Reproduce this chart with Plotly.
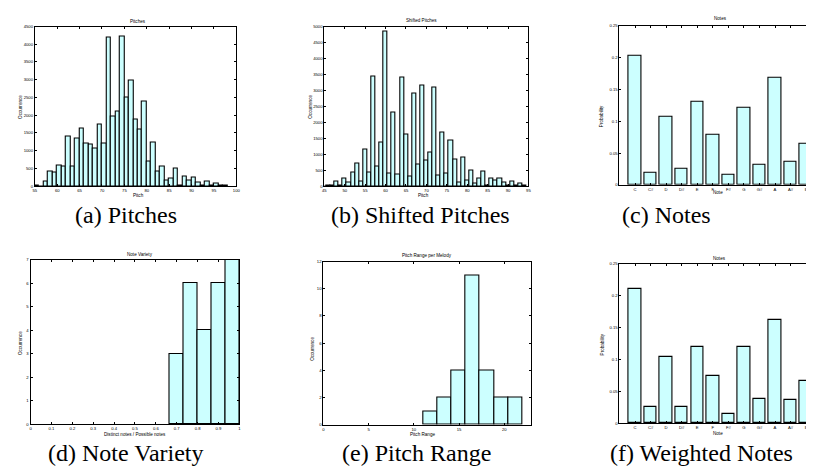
import plotly.graph_objects as go

# ---------------- data ----------------
# (a) Pitches: histogram bins [k, k+1)
pitch_bin_left = list(range(55, 98))
pitch_counts = [20, 0, 130, 410, 380, 580, 550, 1400, 540, 1330, 1610, 1190, 1180, 1070,
                1730, 1190, 4190, 1960, 2100, 4210, 2510, 2990, 1890, 1590, 2380, 700,
                1240, 420, 550, 160, 210, 490, 30, 260, 170, 240, 110, 20, 130, 10, 70, 10, 5]

# (b) Shifted Pitches: bins centred on integer pitch
shifted_pitch = list(range(45, 95))
shifted_counts = [0, 20, 20, 150, 30, 240, 100, 410, 720, 155, 1160, 410, 3420, 610, 1350,
                  4830, 390, 2320, 360, 3390, 1610, 290, 2910, 690, 3160, 800, 1060, 3100,
                  340, 1680, 380, 1430, 830, 120, 910, 180, 480, 80, 250, 470, 30, 250, 175,
                  240, 105, 25, 135, 10, 80, 10]

# (c) Notes and (f) Weighted Notes
note_names = ["C", "C#", "D", "D#", "E", "F", "F#", "G", "G#", "A", "A#", "B"]
note_prob = [0.203, 0.019, 0.107, 0.025, 0.130, 0.078, 0.015, 0.121, 0.031, 0.169, 0.036, 0.064]
weighted_note_prob = [0.211, 0.025, 0.104, 0.026, 0.120, 0.074, 0.015, 0.120, 0.038, 0.162, 0.037, 0.067]

# (d) Note Variety: bin edges and counts
variety_edges = [0.6667, 0.7333, 0.8, 0.8667, 0.9333, 1.0]
variety_counts = [3, 6, 4, 6, 7]

# (e) Pitch Range per Melody: bin edges and counts
range_edges = [11.0, 12.571, 14.143, 15.714, 17.286, 18.857, 20.429, 22.0]
range_counts = [1, 2, 4, 11, 4, 2, 2]

titles = ["Pitches", "Shifted Pitches", "Notes", "Note Variety", "Pitch Range per Melody", "Notes"]
xlabels = ["Pitch", "Pitch", "Note", "Distinct notes / Possible notes", "Pitch Range", "Note"]
ylabels = ["Occurrence", "Occurrence", "Probability", "Occurrence", "Occurrence", "Probability"]
captions = ["(a) Pitches", "(b) Shifted Pitches", "(c) Notes",
            "(d) Note Variety", "(e) Pitch Range", "(f) Weighted Notes"]

# ---------------- layout helpers ----------------
W, H = 814, 467
def px(x):
    return x / W
def py(y):
    return 1 - y / H

FILL = "#ccffff"
EDGE = "black"
TICKFONT = dict(family="Liberation Sans, Arial, sans-serif", size=4.2, color="black")
LABFONT = dict(family="Liberation Sans, Arial, sans-serif", size=4.6, color="black")
CAPFONT = dict(family="Liberation Serif", size=24, color="black")

# panel boxes in pixels: (left, right, top, bottom)
boxes = [
    (25, 228, 15.7, 177),
    (316.7, 522.3, 15.7, 177),
    (614, 814, 15, 175.7),
    (20.7, 231, 251.7, 417.7),
    (315.7, 525.3, 253.3, 418.3),
    (614, 814, 255.7, 416.7),
]

fig = go.Figure()

def centers(edges):
    return [(a + b) / 2 for a, b in zip(edges[:-1], edges[1:])]
def widths(edges):
    return [b - a for a, b in zip(edges[:-1], edges[1:])]

bar_style = dict(marker=dict(color=FILL, line=dict(color=EDGE, width=1.1)), showlegend=False,
                 hoverinfo="skip")

fig.add_trace(go.Bar(x=[k + 0.5 for k in pitch_bin_left], y=pitch_counts, width=1,
                     xaxis="x", yaxis="y", **bar_style))
fig.add_trace(go.Bar(x=shifted_pitch, y=shifted_counts, width=1,
                     xaxis="x2", yaxis="y2", **bar_style))
fig.add_trace(go.Bar(x=list(range(1, 13)), y=note_prob, width=0.8,
                     xaxis="x3", yaxis="y3", **bar_style))
fig.add_trace(go.Bar(x=centers(variety_edges), y=variety_counts, width=widths(variety_edges),
                     xaxis="x4", yaxis="y4", **bar_style))
fig.add_trace(go.Bar(x=centers(range_edges), y=range_counts, width=widths(range_edges),
                     xaxis="x5", yaxis="y5", **bar_style))
fig.add_trace(go.Bar(x=list(range(1, 13)), y=weighted_note_prob, width=0.8,
                     xaxis="x6", yaxis="y6", **bar_style))

def ax(domain, rng, tickvals, ticktext=None, mirror="allticks", anchor=None):
    d = dict(domain=domain, range=rng, tickmode="array", tickvals=tickvals,
             showline=True, linecolor="black", linewidth=1, mirror=mirror,
             ticks="inside", ticklen=2, tickwidth=0.8, tickcolor="black",
             tickfont=TICKFONT, showgrid=False, zeroline=False, fixedrange=True,
             anchor=anchor)
    if ticktext is not None:
        d["ticktext"] = ticktext
    return d

xr = [
    ([55, 100], list(range(55, 101, 5)), None),
    ([45, 95], list(range(45, 96, 5)), None),
    ([0, (814 - 614) / 15.67], list(range(1, 13)), note_names),
    ([0, 1], [i / 10 for i in range(11)], ["0", "0.1", "0.2", "0.3", "0.4", "0.5", "0.6", "0.7", "0.8", "0.9", "1"]),
    ([0, 23], [0, 5, 10, 15, 20], None),
    ([0, (814 - 614) / 15.67], list(range(1, 13)), note_names),
]
yr = [
    ([0, 4500], list(range(0, 4501, 500)), None),
    ([0, 5000], list(range(0, 5001, 500)), None),
    ([0, 0.25], [0, 0.05, 0.1, 0.15, 0.2, 0.25], ["0", "0.05", "0.1", "0.15", "0.2", "0.25"]),
    ([0, 7], list(range(0, 8)), None),
    ([0, 12], list(range(0, 13, 2)), None),
    ([0, 0.25], [0, 0.05, 0.1, 0.15, 0.2, 0.25], ["0", "0.05", "0.1", "0.15", "0.2", "0.25"]),
]

layout = dict(width=W, height=H, margin=dict(l=0, r=0, t=0, b=0),
              paper_bgcolor="white", plot_bgcolor="white", bargap=0, showlegend=False)
annotations = []
for i, (l, r, t, b) in enumerate(boxes):
    n = "" if i == 0 else str(i + 1)
    xrng, xtv, xtt = xr[i]
    yrng, ytv, ytt = yr[i]
    layout["xaxis" + n] = ax([px(l), px(r)], xrng, xtv, xtt, mirror="allticks", anchor="y" + n)
    ymir = False if i in (2, 5) else "allticks"
    layout["yaxis" + n] = ax([py(b), py(t)], yrng, ytv, ytt, mirror=ymir, anchor="x" + n)

# titles, axis labels, captions (pixel positions)
title_pos = [(129, 11), (415, 10), (715.7, 7.5), (131, 246), (420, 247.5), (715, 250)]
xlab_pos = [(129, 186), (416.7, 187), (713, 183.7), (126, 428.5), (415.7, 428.5), (713.3, 427)]
ylab_pos = [(11, 97), (303, 97), (596.7, 106), (10.7, 336), (304, 341.7), (596.7, 336.7)]
cap_pos = [(117, 206), (414, 206), (661, 206), (117, 447), (410, 447), (697, 447)]

for i in range(6):
    annotations.append(dict(text=titles[i], x=px(title_pos[i][0]), y=py(title_pos[i][1]),
                            xref="paper", yref="paper", showarrow=False, font=LABFONT,
                            xanchor="center", yanchor="middle"))
    annotations.append(dict(text=xlabels[i], x=px(xlab_pos[i][0]), y=py(xlab_pos[i][1]),
                            xref="paper", yref="paper", showarrow=False, font=LABFONT,
                            xanchor="center", yanchor="middle"))
    annotations.append(dict(text=ylabels[i], x=px(ylab_pos[i][0]), y=py(ylab_pos[i][1]),
                            xref="paper", yref="paper", showarrow=False, font=LABFONT,
                            textangle=-90, xanchor="center", yanchor="middle"))
    annotations.append(dict(text=captions[i], x=px(cap_pos[i][0]), y=py(cap_pos[i][1]),
                            xref="paper", yref="paper", showarrow=False, font=CAPFONT,
                            xanchor="center", yanchor="middle"))

layout["annotations"] = annotations
fig.update_layout(**layout)
fig.write_html("out.html", config=dict(displayModeBar=False))
